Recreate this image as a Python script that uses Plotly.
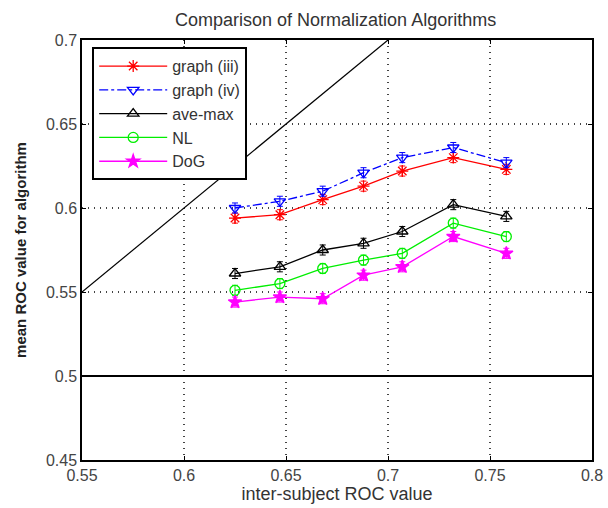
import plotly.graph_objects as go

x_vals = [0.625, 0.647, 0.668, 0.688, 0.707, 0.732, 0.758]
graph_iii = [0.594, 0.596, 0.605, 0.613, 0.622, 0.630, 0.623]
graph_iv = [0.600, 0.604, 0.610, 0.621, 0.630, 0.636, 0.627]
ave_max = [0.561, 0.565, 0.575, 0.579, 0.586, 0.602, 0.595]
nl = [0.551, 0.555, 0.564, 0.569, 0.573, 0.591, 0.583]
dog = [0.544, 0.547, 0.546, 0.560, 0.565, 0.583, 0.573]
err = [0.003, 0.003, 0.003, 0.003, 0.003, 0.003, 0.003]
diag = [0.55, 0.70]
chance = 0.5
x_ticks = [0.55, 0.6, 0.65, 0.7, 0.75, 0.8]
x_ticklabels = ["0.55", "0.6", "0.65", "0.7", "0.75", "0.8"]
y_ticks = [0.45, 0.5, 0.55, 0.6, 0.65, 0.7]
y_ticklabels = ["0.45", "0.5", "0.55", "0.6", "0.65", "0.7"]

fig = go.Figure()

series = [
    ("graph (iii)", graph_iii, "#ff0000", "solid", "asterisk-open", 10),
    ("graph (iv)", graph_iv, "#0000ff", "dashdot", "triangle-down-open", 10),
    ("ave-max", ave_max, "#000000", "solid", "triangle-up-open", 10),
    ("NL", nl, "#00ee00", "solid", "circle-open", 10),
    ("DoG", dog, "#ff00ff", "solid", "star", 10),
]
for name, ys, col, dash, sym, sz in series:
    fig.add_trace(go.Scatter(
        x=x_vals, y=ys, name=name, mode="lines+markers",
        line=dict(color=col, width=1.3, dash=dash),
        marker=dict(symbol=sym, size=sz, color=col, line=dict(color=col, width=1.3)),
        error_y=dict(type="data", array=err, color=col, thickness=1, width=3),
    ))

fig.add_trace(go.Scatter(x=diag, y=diag, mode="lines", showlegend=False,
                         line=dict(color="#000000", width=1.2)))
fig.add_trace(go.Scatter(x=[0.55, 0.8], y=[chance, chance], mode="lines", showlegend=False,
                         line=dict(color="#000000", width=2)))

axis_common = dict(
    showline=True, linecolor="#000000", linewidth=1.5, mirror="ticks",
    ticks="inside", ticklen=4, tickcolor="#000000",
    showgrid=True, gridcolor="#444444", griddash="1px,5px", gridwidth=1.5,
    zeroline=False, tickfont=dict(size=16, color="#444444"), automargin=False,
)

fig.update_layout(
    width=608, height=508,
    margin=dict(l=82, r=16, t=40, b=48),
    paper_bgcolor="white", plot_bgcolor="white",
    font=dict(family="Liberation Sans, Arial, sans-serif", color="#333333"),
    title=dict(text="Comparison of Normalization Algorithms", x=0.552, xanchor="center",
               y=0.962, yanchor="middle", font=dict(size=18, color="#333333")),
    xaxis=dict(range=[0.55, 0.8], tickvals=x_ticks, ticktext=x_ticklabels,
               title=dict(text="inter-subject ROC value", standoff=2, font=dict(size=18)),
               **axis_common),
    yaxis=dict(range=[0.45, 0.7], tickvals=y_ticks, ticktext=y_ticklabels,
               title=dict(text="<b>mean ROC value for algorithm</b>", standoff=16,
                          font=dict(size=15, color="#222222")),
               **axis_common),
    legend=dict(x=0.02, y=0.983, xanchor="left", yanchor="top",
                bgcolor="white", bordercolor="#000000", borderwidth=2,
                font=dict(size=16, color="#333333"), tracegroupgap=0,
                itemwidth=68),
    showlegend=True,
)

fig.write_html("out.html", config={"displayModeBar": False},
               post_script="document.body.style.margin='0';")
